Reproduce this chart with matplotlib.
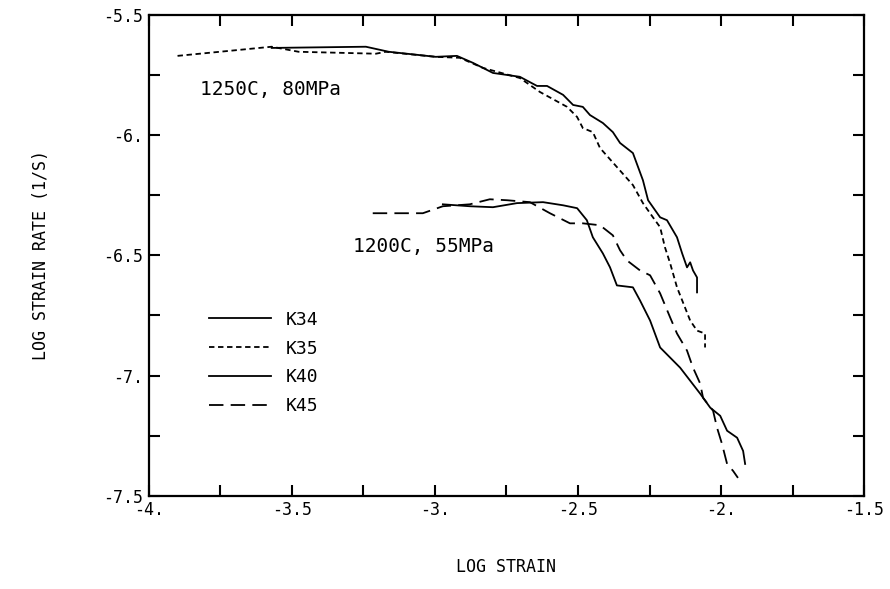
import matplotlib
matplotlib.use("Agg")
import matplotlib.pyplot as plt

# 1250C, 80MPa
k34_x = [-3.570, -3.241, -3.161, -2.997, -2.923, -2.867, -2.797, -2.703, -2.643, -2.608,
         -2.552, -2.517, -2.483, -2.458, -2.413, -2.378, -2.353, -2.308, -2.273, -2.255,
         -2.213, -2.189, -2.154, -2.136, -2.119, -2.108, -2.098, -2.084, -2.084]
k34_y = [-5.638, -5.633, -5.654, -5.675, -5.671, -5.700, -5.742, -5.758, -5.796, -5.796,
         -5.833, -5.875, -5.883, -5.917, -5.950, -5.988, -6.033, -6.075, -6.188, -6.271,
         -6.342, -6.354, -6.425, -6.492, -6.550, -6.529, -6.563, -6.592, -6.654]

k35_x = [-3.899, -3.717, -3.570, -3.476, -3.206, -3.171, -2.997, -2.913, -2.832, -2.703,
         -2.633, -2.538, -2.503, -2.483, -2.448, -2.423, -2.364, -2.308, -2.273, -2.238,
         -2.213, -2.196, -2.178, -2.154, -2.126, -2.108, -2.084, -2.056, -2.056]
k35_y = [-5.671, -5.650, -5.633, -5.654, -5.662, -5.654, -5.675, -5.679, -5.721, -5.763,
         -5.821, -5.883, -5.925, -5.971, -5.988, -6.054, -6.133, -6.208, -6.283, -6.342,
         -6.383, -6.467, -6.533, -6.633, -6.717, -6.771, -6.813, -6.825, -6.883]

# 1200C, 55MPa
k40_x = [-2.972, -2.878, -2.797, -2.713, -2.622, -2.552, -2.503, -2.469, -2.448, -2.413,
         -2.388, -2.364, -2.308, -2.283, -2.248, -2.213, -2.178, -2.143, -2.108, -2.073,
         -2.038, -2.003, -1.979, -1.944, -1.923, -1.916]
k40_y = [-6.288, -6.296, -6.300, -6.283, -6.279, -6.292, -6.304, -6.354, -6.425, -6.492,
         -6.550, -6.625, -6.633, -6.688, -6.771, -6.883, -6.925, -6.967, -7.021, -7.075,
         -7.133, -7.167, -7.229, -7.258, -7.313, -7.367]

k45_x = [-3.217, -3.042, -2.972, -2.878, -2.808, -2.748, -2.668, -2.598, -2.528, -2.483,
         -2.423, -2.378, -2.353, -2.329, -2.283, -2.248, -2.213, -2.178, -2.154, -2.119,
         -2.098, -2.073, -2.063, -2.028, -2.014, -1.997, -1.979, -1.958, -1.941]
k45_y = [-6.325, -6.325, -6.296, -6.288, -6.267, -6.271, -6.279, -6.325, -6.367, -6.367,
         -6.375, -6.417, -6.479, -6.521, -6.563, -6.583, -6.658, -6.758, -6.825, -6.896,
         -6.967, -7.033, -7.092, -7.146, -7.217, -7.283, -7.367, -7.396, -7.425]

x_ticks = [-4.0, -3.5, -3.0, -2.5, -2.0, -1.5]
x_tick_labels = ["-4.", "-3.5", "-3.", "-2.5", "-2.", "-1.5"]
y_ticks = [-7.5, -7.0, -6.5, -6.0, -5.5]
y_tick_labels = ["-7.5", "-7.", "-6.5", "-6.", "-5.5"]

plt.rcParams["font.family"] = ["DejaVu Sans Mono", "DejaVu Sans"]

fig = plt.figure(figsize=(8.9, 5.89), dpi=100)
ax = fig.add_axes([0.167, 0.158, 0.804, 0.817])

lw = 1.3
ax.plot(k34_x, k34_y, color="black", lw=lw, label="K34")
ax.plot(k35_x, k35_y, color="black", lw=lw, dashes=(3, 2), label="K35")
ax.plot(k40_x, k40_y, color="black", lw=lw, label="K40")
ax.plot(k45_x, k45_y, color="black", lw=lw, dashes=(8, 4), label="K45")

ax.text(-3.82, -5.8125, "1250C, 80MPa", fontsize=14, va="center", ha="left")
ax.text(-3.287, -6.4625, "1200C, 55MPa", fontsize=14, va="center", ha="left")

ax.set_xlim(-4, -1.5)
ax.set_ylim(-7.5, -5.5)
ax.set_xticks(x_ticks)
ax.set_xticklabels(x_tick_labels, fontsize=12)
ax.set_yticks(y_ticks)
ax.set_yticklabels(y_tick_labels, fontsize=12)
ax.set_xticks([-3.75, -3.25, -2.75, -2.25, -1.75], minor=True)
ax.set_yticks([-7.25, -6.75, -6.25, -5.75], minor=True)
ax.tick_params(which="both", direction="in", length=8, width=1.5,
               top=True, right=True, pad=4)
for s in ax.spines.values():
    s.set_linewidth(1.6)

ax.set_xlabel("LOG STRAIN", fontsize=12, labelpad=28)
ax.set_ylabel("LOG STRAIN RATE (1/S)", fontsize=12, labelpad=38)

ax.legend(loc="upper left", bbox_to_anchor=(0.085, 0.385), frameon=False,
          fontsize=13, handlelength=3.4, handletextpad=0.8, labelspacing=0.6,
          borderpad=0, borderaxespad=0)

plt.savefig("out.png", dpi=100)
